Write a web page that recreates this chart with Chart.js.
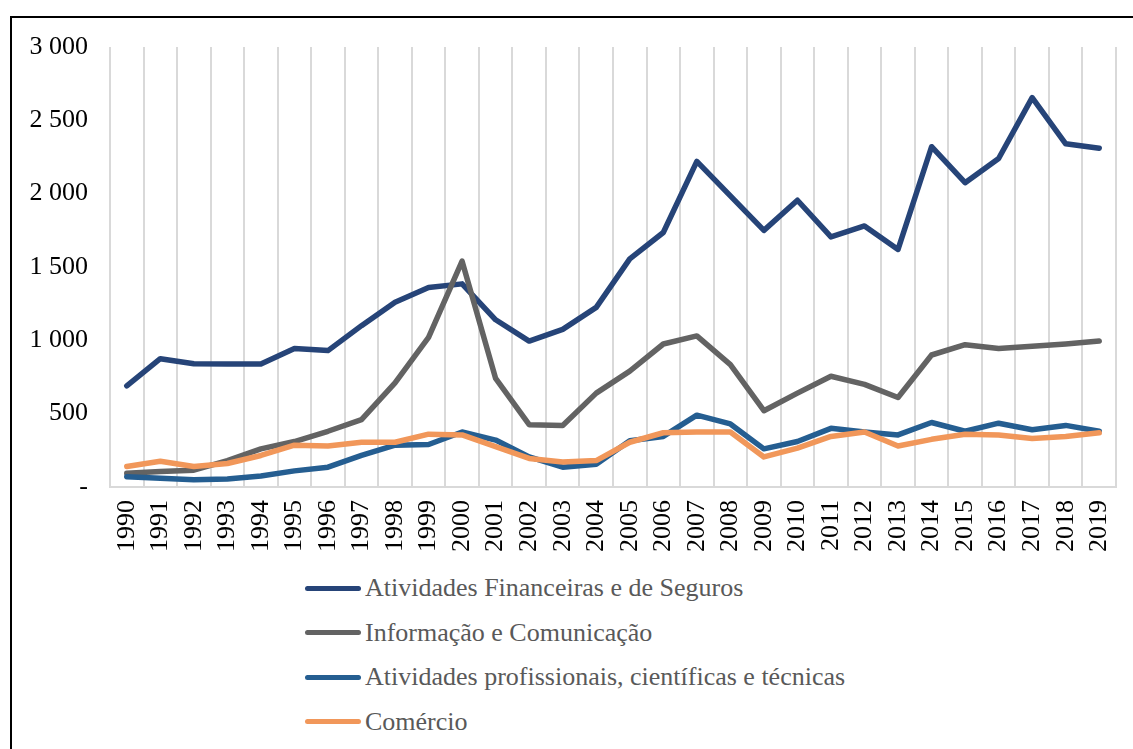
<!DOCTYPE html>
<html>
<head>
<meta charset="utf-8">
<script src="https://cdn.jsdelivr.net/npm/chart.js@4"></script>
<style>
  html, body { margin: 0; padding: 0; background: #fff; }
  body { width: 1133px; height: 749px; overflow: hidden; position: relative; }
  #frame {
    position: absolute; left: 10px; top: 16px; width: 1200px; height: 800px;
    border-top: 2px solid #000; border-left: 2px solid #000; box-sizing: border-box;
  }
  #wrap { position: absolute; left: 0; top: 0; width: 1133px; height: 560px; }
  #legend {
    position: absolute; left: 305px; top: 566px;
    font-family: "Liberation Serif", "Times New Roman", serif; font-size: 26px; color: #595959;
  }
  .item { display: flex; align-items: center; height: 44.5px; white-space: nowrap; }
  .swatch { width: 56px; height: 5px; border-radius: 3px; margin-right: 4px; }
</style>
</head>
<body>
<div id="frame"></div>
<div id="wrap"><canvas id="myChart"></canvas></div>
<div id="legend"></div>
<script>
// setup
const years = ["1990","1991","1992","1993","1994","1995","1996","1997","1998","1999",
  "2000","2001","2002","2003","2004","2005","2006","2007","2008","2009",
  "2010","2011","2012","2013","2014","2015","2016","2017","2018","2019"];

const financeiras = [690, 875, 840, 838, 838, 945, 930, 1100, 1260, 1360,
  1385, 1140, 995, 1075, 1225, 1555, 1735, 2220, 1985, 1750,
  1955, 1705, 1780, 1620, 2320, 2075, 2240, 2655, 2340, 2310];

const informacao = [93, 105, 115, 180, 260, 310, 380, 460, 710, 1020,
  1540, 740, 425, 420, 640, 790, 975, 1030, 835, 520,
  640, 755, 700, 610, 900, 970, 945, 960, 975, 995];

const profissionais = [70, 60, 50, 55, 75, 110, 135, 215, 285, 290,
  375, 320, 205, 135, 155, 315, 345, 490, 430, 260,
  310, 400, 375, 355, 440, 380, 435, 390, 420, 380];

const comercio = [140, 175, 140, 160, 215, 285, 280, 305, 305, 360,
  355, 275, 195, 170, 180, 305, 370, 375, 375, 205,
  265, 345, 375, 280, 325, 360, 355, 330, 345, 370];

const yTicks = [0, 500, 1000, 1500, 2000, 2500, 3000];

const font = "'Liberation Serif', 'Times New Roman', serif";

function line(label, values, color, order) {
  return {
    label: label,
    data: values,
    borderColor: color,
    backgroundColor: color,
    borderWidth: 5.5,
    pointRadius: 0,
    tension: 0,
    borderCapStyle: "round",
    borderJoinStyle: "round",
    order: order, // later series drawn on top
  };
}

const data = {
  labels: years,
  datasets: [
    line("Atividades Financeiras e de Seguros", financeiras, "#264478", 4),
    line("Informação e Comunicação", informacao, "#636363", 3),
    line("Atividades profissionais, científicas e técnicas", profissionais, "#255E91", 2),
    line("Comércio", comercio, "#F1975A", 1),
  ],
};

const config = {
  type: "line",
  data,
  options: {
    responsive: true,
    maintainAspectRatio: false,
    animation: false,
    devicePixelRatio: 1,
    layout: { padding: { left: 10, right: 17, top: 47, bottom: 0 } },
    plugins: {
      legend: { display: false },
      tooltip: { enabled: false },
    },
    scales: {
      y: {
        min: 0,
        max: 3000,
        afterFit: (scale) => { scale.width = 100; },
        afterBuildTicks: (scale) => { scale.ticks = yTicks.map((v) => ({ value: v })); },
        grid: { display: false, drawTicks: false },
        border: { display: false },
        ticks: {
          padding: 22,
          color: "#000",
          font: { family: font, size: 26 },
          callback: function (value) {
            if (value === 0) return "-";
            return value.toString().replace(/\B(?=(\d{3})+(?!\d))/g, " ");
          },
        },
      },
      x: {
        offset: true,
        afterFit: (scale) => {
          scale.height = 73;
          scale.paddingLeft = 0;
          scale.paddingRight = 0;
        },
        grid: { display: true, offset: true, color: "#d9d9d9", lineWidth: 2, drawTicks: false },
        border: { display: true, color: "#d9d9d9", width: 2 },
        ticks: {
          padding: 13,
          color: "#000",
          minRotation: 90,
          maxRotation: 90,
          autoSkip: false,
          font: { family: font, size: 26 },
        },
      },
    },
  },
};

// render init block
const myChart = new Chart(document.getElementById("myChart"), config);

// legend list, one row per series
const legendBox = document.getElementById("legend");
myChart.data.datasets.forEach((ds) => {
  const row = document.createElement("div");
  row.className = "item";
  const sw = document.createElement("span");
  sw.className = "swatch";
  sw.style.background = ds.borderColor;
  const txt = document.createElement("span");
  txt.textContent = ds.label;
  row.appendChild(sw);
  row.appendChild(txt);
  legendBox.appendChild(row);
});
</script>
</body>
</html>
